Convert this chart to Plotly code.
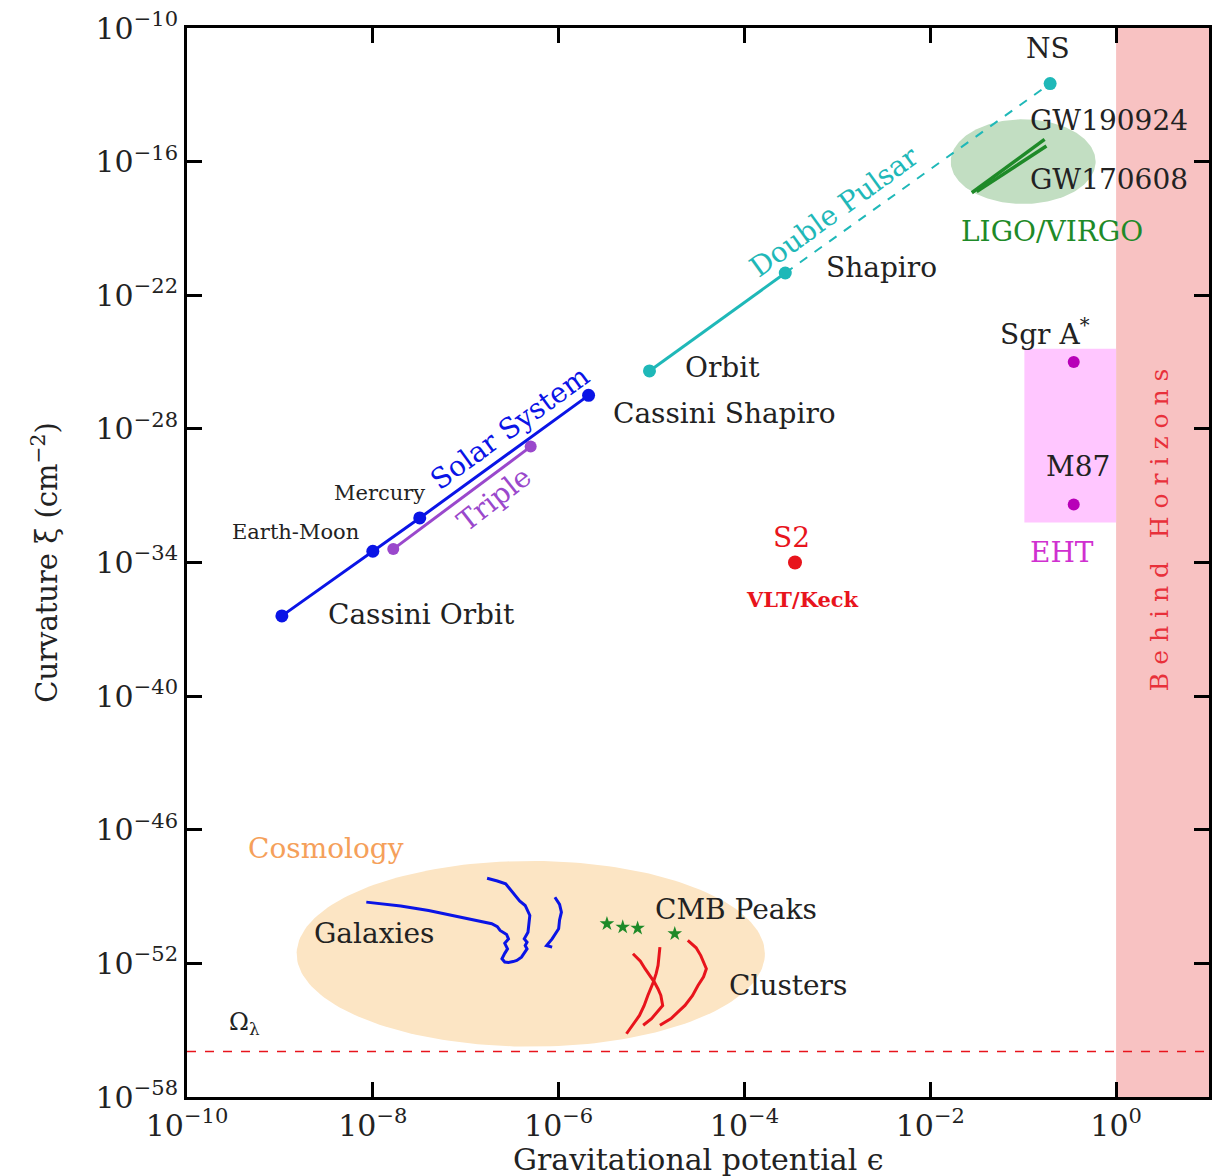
import numpy as np
import plotly.graph_objects as go

# ---------------- data ----------------
solar_eps = [1.05e-9, 1.0e-8, 3.2e-8, 2.1e-6]          # Cassini Orbit, Earth-Moon, Mercury, Cassini Shapiro
solar_xi = [4.0e-37, 3.2e-34, 1.0e-32, 3.2e-27]

triple_eps = [1.66e-8, 5.0e-7]
triple_xi = [4.0e-34, 1.6e-29]

pulsar_eps = [9.5e-6, 2.75e-4]                          # Orbit, Shapiro
pulsar_xi = [4.0e-26, 1.0e-21]
ns_eps = [2.75e-4, 0.195]                               # Shapiro -> NS (dashed)
ns_xi = [1.0e-21, 3.2e-13]

gw1_eps = [0.028, 0.17]
gw1_xi = [4.0e-18, 1.0e-15]
gw2_eps = [0.0316, 0.178]
gw2_xi = [4.5e-18, 5.0e-16]

eht_eps = [0.35, 0.35]                                  # Sgr A*, M87
eht_xi = [1.0e-25, 4.0e-32]
eht_box_eps = [0.103, 1.0]
eht_box_xi = [6.3e-33, 4.0e-25]

s2_eps = [3.5e-4]
s2_xi = [1.0e-34]

lambda_xi = 1.1e-56

# galaxy rotation curves (log10 eps, log10 xi)
gal1_lx = [-8.07, -7.70, -7.40, -7.05, -6.72, -6.66, -6.63, -6.56, -6.54, -6.58, -6.55, -6.58, -6.61,
           -6.58, -6.54, -6.49, -6.45, -6.40, -6.36, -6.34, -6.36, -6.34, -6.37, -6.33, -6.31,
           -6.36, -6.42, -6.46, -6.50, -6.57, -6.66, -6.77]
gal1_ly = [-49.25, -49.42, -49.63, -49.92, -50.22, -50.35, -50.52, -50.70, -50.90, -51.10, -51.35, -51.55, -51.79,
           -51.94, -51.96, -51.92, -51.87, -51.72, -51.49, -51.35, -51.20, -51.05, -50.90, -50.60, -49.85,
           -49.40, -49.20, -49.00, -48.80, -48.43, -48.30, -48.18]
gal2_lx = [-6.04, -5.99, -5.97, -5.99, -6.00, -6.04, -6.07, -6.13, -6.07]
gal2_ly = [-49.03, -49.35, -49.70, -50.05, -50.45, -50.70, -50.90, -51.20, -51.27]

# CMB peaks
cmb_lx = [-5.48, -5.31, -5.15, -4.75]
cmb_ly = [-50.22, -50.37, -50.42, -50.67]

# cluster curves
cl1_lx = [-5.20, -5.12, -5.07, -5.02, -4.97, -4.93, -4.90, -4.88, -4.94, -5.00, -5.09]
cl1_ly = [-51.57, -51.90, -52.24, -52.55, -52.84, -53.15, -53.44, -53.89, -54.20, -54.48, -54.78]
cl2_lx = [-4.91, -4.93, -4.95, -4.98, -5.04, -5.08, -5.13, -5.20, -5.27]
cl2_ly = [-51.27, -52.09, -52.45, -52.84, -53.44, -53.90, -54.34, -54.75, -55.16]
cl3_lx = [-4.61, -4.52, -4.47, -4.41, -4.44, -4.50, -4.56, -4.64, -4.72, -4.79, -4.91]
cl3_ly = [-50.97, -51.30, -51.65, -52.24, -52.60, -52.99, -53.45, -53.89, -54.20, -54.48, -54.78]

# ellipse regions (log10 centre and half-axes in decades)
cosmo_ell = dict(cx=-6.30, cy=-51.57, rx=2.52, ry=4.17)
ligo_ell = dict(cx=-1.0, cy=-16.0, rx=0.78, ry=1.9)

xtick_exp = [-10, -8, -6, -4, -2, 0]
ytick_exp = [-10, -16, -22, -28, -34, -40, -46, -52, -58]

# ---------------- styling ----------------
FONT = "DejaVu Serif"
BLUE = "#0A14E6"
CYAN = "#1FB8B8"
PURPLE = "#9A48CC"
GREEN = "#1E8A28"
MAG = "#B800B8"
RED = "#E8141C"
ORANGE = "#F5A05A"
TXT = "#222222"

fig = go.Figure()


def ellipse(e, n=200):
    t = np.linspace(0, 2 * np.pi, n)
    return 10 ** (e["cx"] + e["rx"] * np.cos(t)), 10 ** (e["cy"] + e["ry"] * np.sin(t))


def p10(v):
    return [10 ** a for a in v]


# background regions
fig.add_trace(go.Scatter(x=[1, 10, 10, 1, 1], y=[1e-58, 1e-58, 1e-10, 1e-10, 1e-58], fill="toself",
                         fillcolor="#F8C2C2", line=dict(width=0), mode="lines"))
ex, ey = ellipse(cosmo_ell)
fig.add_trace(go.Scatter(x=ex, y=ey, fill="toself", fillcolor="#FCE5C4", line=dict(width=0), mode="lines"))
ex, ey = ellipse(ligo_ell)
fig.add_trace(go.Scatter(x=ex, y=ey, fill="toself", fillcolor="#C2DEC2", line=dict(width=0), mode="lines"))
bx = [eht_box_eps[0], eht_box_eps[1], eht_box_eps[1], eht_box_eps[0], eht_box_eps[0]]
by = [eht_box_xi[0], eht_box_xi[0], eht_box_xi[1], eht_box_xi[1], eht_box_xi[0]]
fig.add_trace(go.Scatter(x=bx, y=by, fill="toself", fillcolor="#FFC6FF", line=dict(width=0), mode="lines"))

# cosmological constant
fig.add_trace(go.Scatter(x=[1e-10, 10], y=[lambda_xi, lambda_xi], mode="lines",
                         line=dict(color=RED, width=1.5, dash="dash")))

# cosmology curves
for lx, ly in [(gal1_lx, gal1_ly), (gal2_lx, gal2_ly)]:
    fig.add_trace(go.Scatter(x=p10(lx), y=p10(ly), mode="lines", line=dict(color=BLUE, width=3)))
for lx, ly in [(cl1_lx, cl1_ly), (cl2_lx, cl2_ly), (cl3_lx, cl3_ly)]:
    fig.add_trace(go.Scatter(x=p10(lx), y=p10(ly), mode="lines", line=dict(color=RED, width=3)))
fig.add_trace(go.Scatter(x=p10(cmb_lx), y=p10(cmb_ly), mode="markers",
                         marker=dict(symbol="star", size=11, color=GREEN)))

# solar system & triple
fig.add_trace(go.Scatter(x=triple_eps, y=triple_xi, mode="lines+markers",
                         line=dict(color=PURPLE, width=3), marker=dict(size=12, color=PURPLE)))
fig.add_trace(go.Scatter(x=solar_eps, y=solar_xi, mode="lines+markers",
                         line=dict(color=BLUE, width=3), marker=dict(size=13, color=BLUE)))

# double pulsar
fig.add_trace(go.Scatter(x=ns_eps, y=ns_xi, mode="lines",
                         line=dict(color=CYAN, width=2, dash="dash")))
fig.add_trace(go.Scatter(x=pulsar_eps, y=pulsar_xi, mode="lines+markers",
                         line=dict(color=CYAN, width=3), marker=dict(size=13, color=CYAN)))
fig.add_trace(go.Scatter(x=[ns_eps[1]], y=[ns_xi[1]], mode="markers", marker=dict(size=13, color=CYAN)))

# LIGO
for gx, gy in [(gw1_eps, gw1_xi), (gw2_eps, gw2_xi)]:
    fig.add_trace(go.Scatter(x=gx, y=gy, mode="lines", line=dict(color=GREEN, width=3.5)))

# EHT, S2
fig.add_trace(go.Scatter(x=eht_eps, y=eht_xi, mode="markers", marker=dict(size=12, color=MAG)))
fig.add_trace(go.Scatter(x=s2_eps, y=s2_xi, mode="markers", marker=dict(size=14, color=RED)))


def lab(text, x, y, color=TXT, size=28, angle=0, xanchor="center"):
    fig.add_annotation(x=x, y=y, xref="x", yref="y", text=text, showarrow=False, textangle=angle,
                       xanchor=xanchor, yanchor="middle",
                       font=dict(family=FONT, size=size, color=color))


lab("Cassini Orbit", -7.48, -36.32)
lab("Earth-Moon", -8.83, -32.65, size=21)
lab("Mercury", -7.93, -30.90, size=21)
lab("Solar System", -6.52, -27.94, color=BLUE, angle=-36)
lab("Cassini Shapiro", -4.22, -27.31)
lab("Triple", -6.70, -31.17, color=PURPLE, angle=-38)
lab("Orbit", -4.24, -25.25)
lab("Shapiro", -2.52, -20.76)
lab("Double Pulsar", -3.03, -18.25, color=CYAN, angle=-36)
lab("NS", -0.73, -10.90)
lab("GW190924", -0.075, -14.17)
lab("GW170608", -0.075, -16.82)
lab("LIGO/VIRGO", -0.686, -19.15, color=GREEN)
lab("Sgr A<sup>*</sup>", -0.77, -23.68)
lab("M87", -0.41, -29.69)
lab("EHT", -0.58, -33.54, color="#D030D0")
lab("S2", -3.49, -32.87, color=RED)
lab("<b>VLT/Keck</b>", -3.38, -35.65, color=RED, size=21)
lab("Galaxies", -7.99, -50.67)
lab("CMB Peaks", -4.09, -49.60)
lab("Clusters", -3.53, -53.0)
lab("Cosmology", -8.50, -46.82, color=ORANGE)
lab("Ω<sub>λ</sub>", -9.38, -54.71, size=24)
lab("B e h i n d &nbsp; H o r i z o n s", 0.46, -32.51, color="#E8303A", size=25, angle=-90)

# x-axis title placed explicitly below the tick labels
fig.add_annotation(x=0.50, y=-0.058, xref="paper", yref="paper", text="Gravitational potential ϵ",
                   showarrow=False, xanchor="center", yanchor="middle",
                   font=dict(family=FONT, size=30, color=TXT))

fig.update_xaxes(type="log", range=[-10, 1], showgrid=False, zeroline=False,
                 showline=True, linecolor="black", linewidth=3, mirror="ticks",
                 ticks="inside", ticklen=15, tickwidth=3, tickcolor="black",
                 tickvals=[10 ** e for e in xtick_exp],
                 ticktext=["10<sup>−%d</sup>" % -e if e < 0 else "10<sup>0</sup>" for e in xtick_exp],
                 tickfont=dict(family=FONT, size=30, color=TXT))
fig.update_yaxes(type="log", range=[-58, -10], showgrid=False, zeroline=False,
                 showline=True, linecolor="black", linewidth=3, mirror="ticks",
                 ticks="inside", ticklen=15, tickwidth=3, tickcolor="black",
                 tickvals=[10 ** e for e in ytick_exp],
                 ticktext=["10<sup>−%d</sup>" % -e for e in ytick_exp],
                 tickfont=dict(family=FONT, size=30, color=TXT),
                 title=dict(text="Curvature ξ (cm<sup>−2</sup>)", standoff=30,
                            font=dict(family=FONT, size=29, color=TXT)))

fig.update_layout(width=1212, height=1176, margin=dict(l=187, r=0, t=28, b=79),
                  plot_bgcolor="white", paper_bgcolor="white", showlegend=False,
                  hovermode=False)

fig.write_html("out.html")
